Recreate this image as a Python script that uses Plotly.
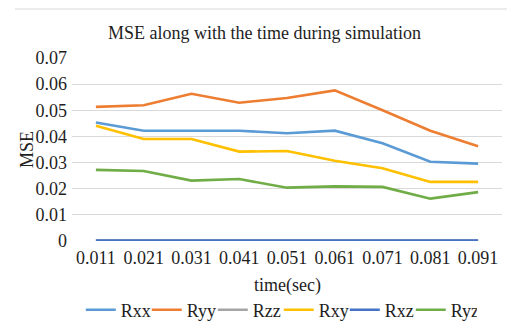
import plotly.graph_objects as go

times = ["0.011", "0.021", "0.031", "0.041", "0.051", "0.061", "0.071", "0.081", "0.091"]
rxx = [0.0453, 0.0422, 0.0422, 0.0422, 0.0412, 0.0422, 0.0374, 0.0303, 0.0296]
ryy = [0.0513, 0.0519, 0.0563, 0.0529, 0.0547, 0.0576, 0.0500, 0.0422, 0.0362]
rzz = [0.0002, 0.0002, 0.0002, 0.0002, 0.0002, 0.0002, 0.0002, 0.0002, 0.0002]
rxy = [0.0441, 0.0390, 0.0390, 0.0342, 0.0344, 0.0307, 0.0278, 0.0226, 0.0226]
rxz = [0.0002, 0.0002, 0.0002, 0.0002, 0.0002, 0.0002, 0.0002, 0.0002, 0.0002]
ryz = [0.0272, 0.0268, 0.0231, 0.0237, 0.0204, 0.0209, 0.0207, 0.0162, 0.0187]

series = [
    ("Rxx", rxx, "#5B9BD5"),
    ("Ryy", ryy, "#ED7D31"),
    ("Rzz", rzz, "#A5A5A5"),
    ("Rxy", rxy, "#FFC000"),
    ("Rxz", rxz, "#4472C4"),
    ("Ryz", ryz, "#70AD47"),
]

FONT = "Liberation Serif"
TXT = "#1E1E1E"

fig = go.Figure()
for name, vals, col in series:
    fig.add_trace(go.Scatter(x=times, y=vals, name=name, mode="lines",
                             line=dict(color=col, width=2.6)))

fig.update_layout(
    width=529, height=330,
    margin=dict(l=72, r=27, t=58, b=89, autoexpand=False),
    paper_bgcolor="white", plot_bgcolor="white",
    font=dict(family=FONT, size=18, color=TXT),
    title=dict(text="MSE along with the time during simulation",
               x=0.5, xanchor="center", y=1 - 33 / 330, yanchor="middle",
               font=dict(family=FONT, size=18, color=TXT)),
    xaxis=dict(type="category", range=[-0.5, len(times) - 0.5],
               showgrid=False, showline=False, zeroline=False,
               ticks="", tickfont=dict(size=18), ticklabelstandoff=4,
               automargin=False),
    yaxis=dict(range=[0, 0.07], dtick=0.01, showgrid=True, gridcolor="#D9D9D9",
               gridwidth=1, zeroline=False, showline=False, ticks="",
               tickfont=dict(size=18), ticklabelstandoff=4, automargin=False),
    showlegend=True,
    legend=dict(orientation="h", x=0.527, xanchor="center", xref="container",
                y=20 / 330, yanchor="middle", yref="container",
                font=dict(size=18), itemwidth=30, tracegroupgap=0,
                entrywidth=21, entrywidthmode="pixels"),
    annotations=[
        dict(text="time(sec)", xref="paper", yref="paper", x=0.5, y=-0.245,
             xanchor="center", yanchor="middle", showarrow=False,
             font=dict(size=18, family=FONT, color=TXT)),
        dict(text="MSE", xref="paper", yref="paper", x=(27 - 72) / 430,
             y=(241 - 150) / 183, xanchor="center", yanchor="middle",
             textangle=-90, showarrow=False,
             font=dict(size=18, family=FONT, color=TXT)),
    ],
    shapes=[
        dict(type="line", xref="paper", yref="paper",
             x0=(15 - 72) / 430, x1=(507 - 72) / 430,
             y0=(241 - 9) / 183, y1=(241 - 9) / 183,
             line=dict(color="#D9D9D9", width=1)),
    ],
)

fig.write_html("out.html")
